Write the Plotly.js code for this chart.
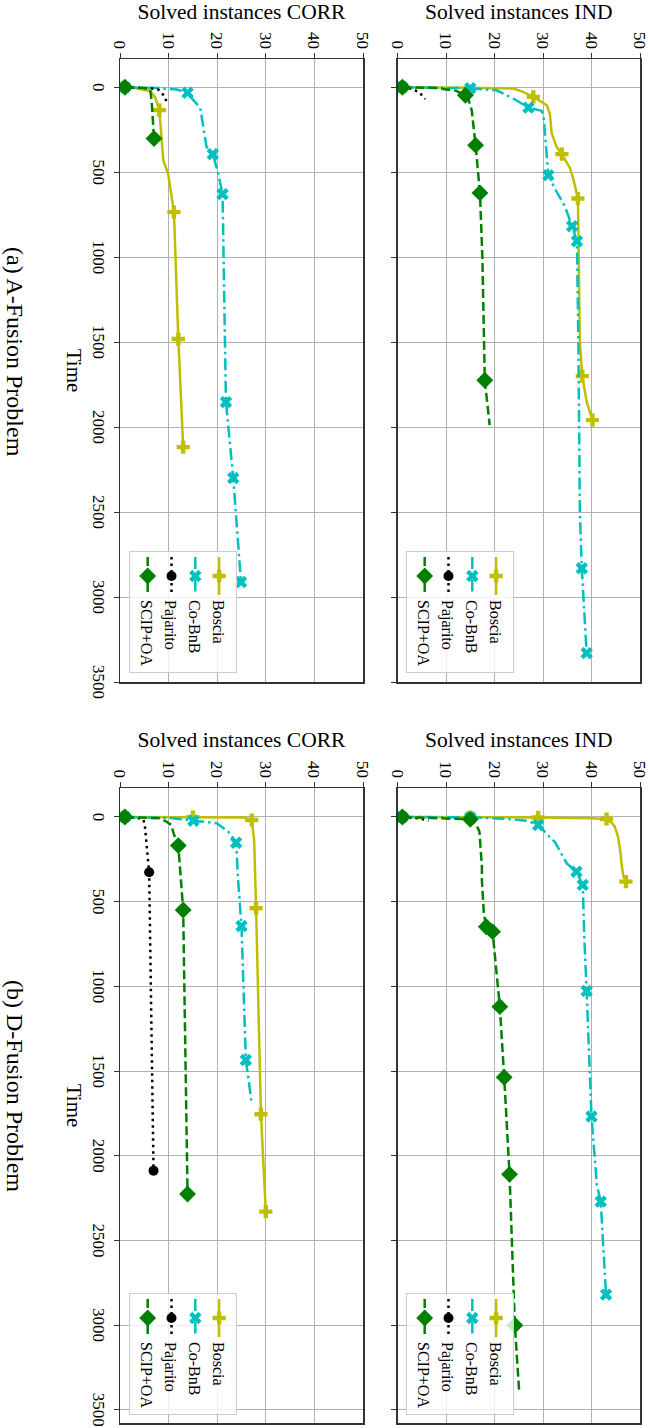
<!DOCTYPE html>
<html><head><meta charset="utf-8">
<script src="https://cdn.plot.ly/plotly-3.0.1.min.js"></script>
<style>
html,body{margin:0;padding:0;width:648px;height:1428px;overflow:hidden;background:#fff;}
#wrap{position:absolute;left:648px;top:0;width:1428px;height:648px;transform-origin:0 0;transform:rotate(90deg);}
</style></head><body><div id="wrap"><div id="chart"></div></div>
<script>
// ---------------- DATA (time in s, solved instances) ----------------
const seriesNames = ['Boscia', 'Co-BnB', 'Pajarito', 'SCIP+OA'];

// (a) A-Fusion, IND
const aInd_boscia_t = [0, 1, 3, 8, 27, 57, 106, 155, 272, 351, 394, 478, 547, 655, 1000, 1500, 1700, 1850, 1959];
const aInd_boscia_s = [1, 10, 15, 23.9, 25.9, 28, 30.8, 31.4, 31.8, 32.8, 33.9, 35.6, 36.3, 37.2, 37.4, 37.6, 38.1, 39, 40.2];
const aInd_boscia_m = [0, 5, 10, 13, 16, 18];
const aInd_cobnb_t = [0, 2, 6, 18, 65, 120, 139, 165, 518, 600, 700, 818, 906, 1500, 2500, 2831, 3330];
const aInd_cobnb_s = [1, 10, 15, 20.4, 23.8, 27, 29.7, 30.1, 31.1, 32.5, 34.5, 36, 37, 37.3, 37.6, 38, 39];
const aInd_cobnb_m = [0, 2, 5, 8, 11, 12, 15, 16];
const aInd_pajarito_t = [0, 10, 30, 70];
const aInd_pajarito_s = [1, 3, 4.5, 5.7];
const aInd_pajarito_m = [0];
const aInd_scip_t = [0, 5, 20, 47, 67, 135, 341, 622, 1000, 1724, 1988];
const aInd_scip_s = [1, 8, 12, 14, 14.6, 15.3, 16.1, 17, 17.5, 18, 19];
const aInd_scip_m = [0, 3, 6, 7, 9];

// (a) A-Fusion, CORR
const aCorr_boscia_t = [0, 5, 14, 22, 57, 135, 429, 508, 735, 1482, 2118];
const aCorr_boscia_s = [1, 3, 4.5, 6.2, 7.2, 8.1, 8.9, 9.9, 11.1, 12, 13];
const aCorr_boscia_m = [0, 5, 8, 9, 10];
const aCorr_cobnb_t = [0, 5, 14, 33, 76, 120, 351, 394, 508, 629, 1853, 2300, 2912];
const aCorr_cobnb_s = [1, 8, 11.7, 13.9, 15.1, 16.5, 17.8, 19.1, 20.2, 21.1, 21.8, 23.3, 24.9];
const aCorr_cobnb_m = [0, 3, 7, 9, 10, 11, 12];
const aCorr_pajarito_t = [0, 5, 14, 57, 96];
const aCorr_pajarito_s = [1, 6, 7.9, 9.3, 9.6];
const aCorr_pajarito_m = [0];
const aCorr_scip_t = [0, 5, 14, 76, 302];
const aCorr_scip_s = [1, 5, 6.2, 6.5, 7];
const aCorr_scip_m = [0, 4];

// (b) D-Fusion, IND
const bInd_boscia_t = [0, 1, 3, 8, 12, 35, 57, 120, 195, 300, 352, 382];
const bInd_boscia_s = [1, 15, 29, 40, 43.1, 44.2, 44.8, 45.5, 45.9, 46.3, 46.6, 47.1];
const bInd_boscia_m = [0, 1, 2, 4, 11];
const bInd_cobnb_t = [0, 2, 10, 22, 48, 150, 274, 323, 401, 700, 1027, 1769, 2172, 2271, 2820];
const bInd_cobnb_s = [1, 15, 22, 26.6, 29, 32.5, 34.9, 36.9, 38.2, 38.5, 39, 40, 41.1, 41.9, 43];
const bInd_cobnb_m = [0, 1, 4, 7, 8, 10, 11, 13, 14];
const bInd_pajarito_t = [0, 8, 22];
const bInd_pajarito_s = [1, 4.6, 6.4];
const bInd_pajarito_m = [0];
const bInd_scip_t = [0, 5, 14, 47, 87, 293, 372, 569, 648, 677, 1120, 1537, 2110, 3001, 3400];
const bInd_scip_s = [1, 8, 15, 16.3, 16.9, 17.4, 17.4, 17.8, 18.3, 19.6, 21.1, 22, 23.1, 24.2, 25.1];
const bInd_scip_m = [0, 2, 8, 9, 10, 11, 12, 13];

// (b) D-Fusion, CORR
const bCorr_boscia_t = [0, 1, 3, 18, 136, 539, 1755, 2330];
const bCorr_boscia_s = [1, 15, 25.4, 27.1, 27.6, 28, 29, 30];
const bCorr_boscia_m = [0, 1, 3, 5, 6, 7];
const bCorr_cobnb_t = [0, 5, 22, 37, 87, 152, 372, 644, 1435, 1690];
const bCorr_cobnb_s = [1, 10, 15.1, 19.9, 22.3, 23.9, 24.3, 25, 25.9, 27.1];
const bCorr_cobnb_m = [0, 2, 5, 7, 8];
const bCorr_pajarito_t = [0, 5, 14, 48, 326, 2088];
const bCorr_pajarito_s = [1, 3.5, 4.8, 5.1, 6, 6.9];
const bCorr_pajarito_m = [0, 4, 5];
const bCorr_scip_t = [0, 4, 8, 28, 48, 96, 169, 549, 2226];
const bCorr_scip_s = [1, 5, 8.2, 9.6, 10.6, 11, 12, 13, 13.9];
const bCorr_scip_m = [0, 6, 7, 8];

// Axis ticks / labels
const timeTicks = [0, 500, 1000, 1500, 2000, 2500, 3000, 3500];
const solvedTicks = [0, 10, 20, 30, 40, 50];
const panelTitles = ['Solved instances IND', 'Solved instances CORR'];
const captions = ['(a) A-Fusion Problem', '(b) D-Fusion Problem'];

// ---------------- STYLE ----------------
const FONT = 'Liberation Serif, Times New Roman, serif';
const styles = [
  {color: '#bfbf00', dash: 'solid', symbol: 'cross', size: 11},
  {color: '#00bfbf', dash: '12px,4px,2.5px,4px', symbol: 'x', size: 11},
  {color: '#000000', dash: '2.5px,4px', symbol: 'circle', size: 10},
  {color: '#008000', dash: '9px,4px', symbol: 'diamond', size: 13}
];

const panels = [
  {data: [[aInd_boscia_t, aInd_boscia_s, aInd_boscia_m], [aInd_cobnb_t, aInd_cobnb_s, aInd_cobnb_m], [aInd_pajarito_t, aInd_pajarito_s, aInd_pajarito_m], [aInd_scip_t, aInd_scip_s, aInd_scip_m]], xa: 'x', ya: 'y', leg: 'legend'},
  {data: [[aCorr_boscia_t, aCorr_boscia_s, aCorr_boscia_m], [aCorr_cobnb_t, aCorr_cobnb_s, aCorr_cobnb_m], [aCorr_pajarito_t, aCorr_pajarito_s, aCorr_pajarito_m], [aCorr_scip_t, aCorr_scip_s, aCorr_scip_m]], xa: 'x2', ya: 'y2', leg: 'legend2'},
  {data: [[bInd_boscia_t, bInd_boscia_s, bInd_boscia_m], [bInd_cobnb_t, bInd_cobnb_s, bInd_cobnb_m], [bInd_pajarito_t, bInd_pajarito_s, bInd_pajarito_m], [bInd_scip_t, bInd_scip_s, bInd_scip_m]], xa: 'x3', ya: 'y3', leg: 'legend3'},
  {data: [[bCorr_boscia_t, bCorr_boscia_s, bCorr_boscia_m], [bCorr_cobnb_t, bCorr_cobnb_s, bCorr_cobnb_m], [bCorr_pajarito_t, bCorr_pajarito_s, bCorr_pajarito_m], [bCorr_scip_t, bCorr_scip_s, bCorr_scip_m]], xa: 'x4', ya: 'y4', leg: 'legend4'}
];

const traces = [];
panels.forEach(p => {
  p.data.forEach((d, i) => {
    const st = styles[i];
    const [t, s, m] = d;
    // full curve
    traces.push({type: 'scatter', mode: 'lines', x: t, y: s, xaxis: p.xa, yaxis: p.ya,
      line: {color: st.color, width: 2.5, dash: st.dash}, showlegend: false, hoverinfo: 'skip'});
    // marked points (all but the first, which carries the legend entry)
    const mm = m.slice(1);
    traces.push({type: 'scatter', mode: 'markers', x: mm.map(k => t[k]), y: mm.map(k => s[k]), xaxis: p.xa, yaxis: p.ya,
      marker: {color: st.color, symbol: st.symbol, size: st.size, line: {width: 0}}, showlegend: false, hoverinfo: 'skip'});
    // first marked point, also the legend entry (line + marker symbol)
    traces.push({type: 'scatter', mode: 'lines+markers', x: [t[m[0]]], y: [s[m[0]]], xaxis: p.xa, yaxis: p.ya,
      name: seriesNames[i], legend: p.leg,
      line: {color: st.color, width: 2.5, dash: st.dash}, marker: {color: st.color, symbol: st.symbol, size: st.size, line: {width: 0}},
      showlegend: true, hoverinfo: 'skip'});
  });
});

// ---------------- LAYOUT (figure drawn landscape, then rotated) ----------------
const W = 1428, H = 648;
const aX = [59 / W, 682 / W], bX = [788 / W, 1423 / W];
const indY = [(H - 250.5) / H, (H - 8) / H], corrY = [(H - 528) / H, (H - 285) / H];
const aRange = [-166, 3500], bRange = [-171, 3578];

function xax(dom, anchor, range, labels) {
  return {domain: dom, anchor: anchor, range: range, tickmode: 'array', tickvals: timeTicks, ticktext: timeTicks.map(String),
    showticklabels: labels, ticks: 'outside', ticklen: 5, tickcolor: '#333', tickwidth: 1,
    showgrid: true, gridcolor: '#b0b0b0', gridwidth: 1, zeroline: false, ticklabeloverflow: 'allow',
    showline: true, mirror: true, linecolor: '#333', linewidth: 1.5,
    tickfont: {family: FONT, size: 17, color: '#000'},
    title: labels ? {text: 'Time', font: {family: FONT, size: 21, color: '#000'}, standoff: 8} : {text: ''}};
}
function yax(dom, anchor, title) {
  return {domain: dom, anchor: anchor, range: [0, 50], tickmode: 'array', tickvals: solvedTicks, ticktext: solvedTicks.map(String),
    ticks: 'outside', ticklen: 5, tickcolor: '#333', tickwidth: 1, ticklabeloverflow: 'allow',
    showgrid: true, gridcolor: '#b0b0b0', gridwidth: 1, zeroline: false,
    showline: true, mirror: true, linecolor: '#333', linewidth: 1.5,
    tickfont: {family: FONT, size: 17, color: '#000'},
    title: {text: title, font: {family: FONT, size: 21.5, color: '#000'}, standoff: 7}};
}
function leg(xr, yb) {
  return {x: xr / W, y: (H - yb) / H, xanchor: 'right', yanchor: 'bottom', xref: 'paper', yref: 'paper',
    bgcolor: 'rgba(255,255,255,0.8)', bordercolor: '#cccccc', borderwidth: 1,
    font: {family: FONT, size: 16, color: '#000'}, traceorder: 'normal', itemwidth: 38};
}

const layout = {
  width: W, height: H, margin: {l: 0, r: 0, t: 0, b: 0}, paper_bgcolor: '#fff', plot_bgcolor: '#fff',
  xaxis: xax(aX, 'y', aRange, false), yaxis: yax(indY, 'x', panelTitles[0]),
  xaxis2: xax(aX, 'y2', aRange, true), yaxis2: yax(corrY, 'x2', panelTitles[1]),
  xaxis3: xax(bX, 'y3', bRange, false), yaxis3: yax(indY, 'x3', panelTitles[0]),
  xaxis4: xax(bX, 'y4', bRange, true), yaxis4: yax(corrY, 'x4', panelTitles[1]),
  legend: leg(673, 242), legend2: leg(673, 519), legend3: leg(1415, 242), legend4: leg(1415, 519),
  annotations: [
    {text: captions[0], xref: 'paper', yref: 'paper', x: 352 / W, y: (H - 633) / H, xanchor: 'center', yanchor: 'middle', showarrow: false, font: {family: FONT, size: 24, color: '#000'}},
    {text: captions[1], xref: 'paper', yref: 'paper', x: 1086 / W, y: (H - 633) / H, xanchor: 'center', yanchor: 'middle', showarrow: false, font: {family: FONT, size: 24, color: '#000'}}
  ],
  showlegend: true
};

Plotly.newPlot('chart', traces, layout, {staticPlot: true, displayModeBar: false});
</script></body></html>
